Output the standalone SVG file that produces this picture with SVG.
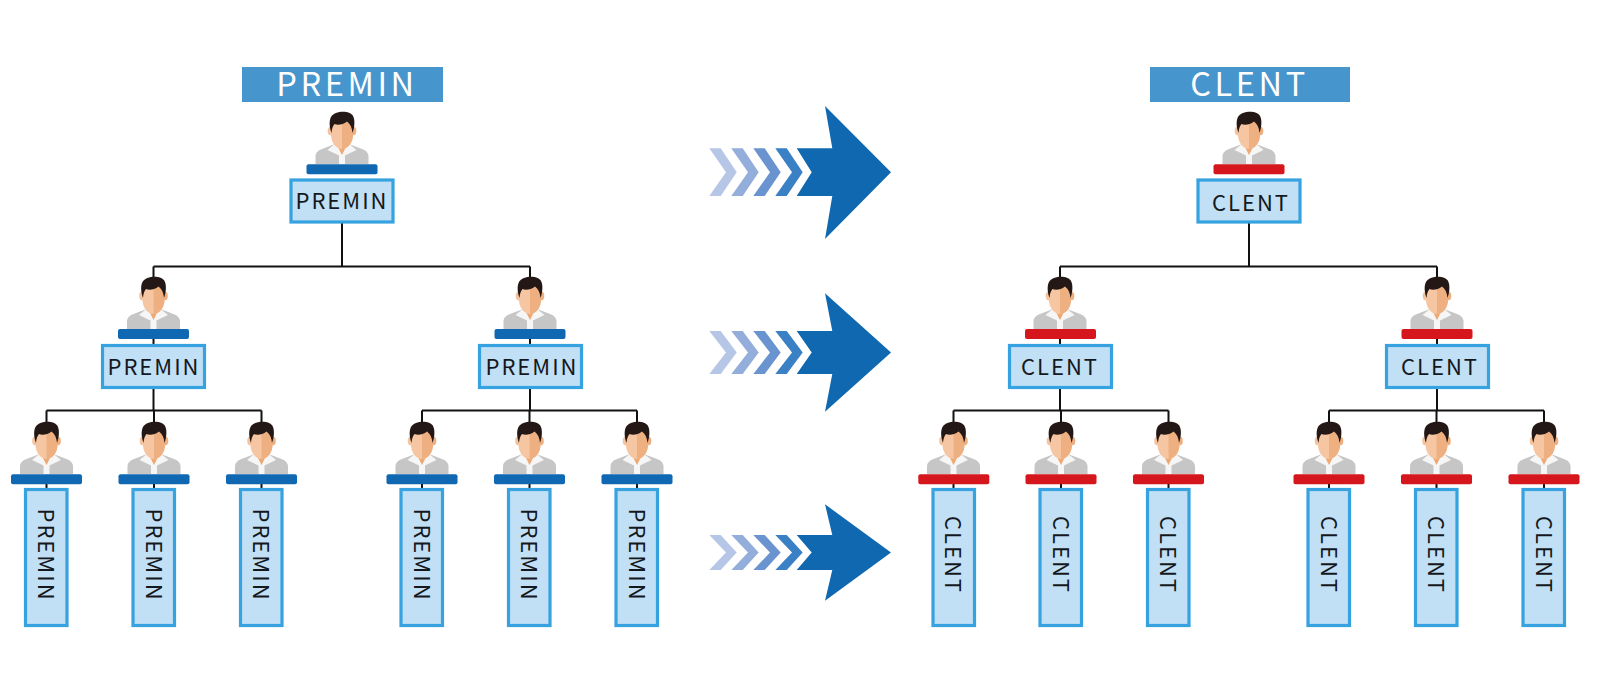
<svg xmlns="http://www.w3.org/2000/svg" width="1600" height="686" viewBox="0 0 1600 686">
<style>
text{font-family:"Noto Sans CJK SC","Noto Sans",sans-serif;text-anchor:middle}
.hd{fill:#4696cd}
.hdt{fill:#fff;font-size:32.5px;font-weight:400;letter-spacing:3.6px}
.box{fill:#c1dff5;stroke:#36a2e0;stroke-width:3.2}
.t{fill:#14181c;font-size:22px;letter-spacing:2px}
.bb{fill:#1067b2}
.br{fill:#d5161c}
.cn{fill:none;stroke:#111;stroke-width:2}
.a0{fill:#0f68b0}.a1{fill:#b5c6e7}.a2{fill:#94aedb}.a3{fill:#6a94cf}.a4{fill:#3a80c5}
</style>
<defs>
<g id="person">
<path d="M-26.5,0V-8C-26,-12 -23,-14 -20,-15L-7,-20H7L20,-15C23,-14 26,-12 26.5,-8V0Z" fill="#c6c6c6"/>
<path d="M-6.5,-25H6.5V-20L0,-8L-6.5,-20Z" fill="#eda873"/>
<path d="M-14.5,-14L-6,-21L0,-9L6,-21L14.5,-14L3,-8.5V0H-3V-8.5Z" fill="#f6f6f6"/>
<ellipse cx="-11.5" cy="-33" rx="2.8" ry="4.2" fill="#f5c39d"/>
<ellipse cx="11.5" cy="-33" rx="2.8" ry="4.2" fill="#eeae7e"/>
<path d="M-11,-46H11V-29C11,-22 6,-15 0,-15C-6,-15 -11,-22 -11,-29Z" fill="#f6c6a2"/>
<path d="M0,-46H11V-29C11,-22 6,-15 0,-15Z" fill="#efb081"/>
<path d="M-10.5,-31C-12.7,-37 -13,-43 -11,-47C-7.5,-53.5 7.5,-54 10.8,-48.5C13.2,-44.5 12.8,-37 10.5,-31C10,-36 8.5,-40 5,-42.5C1,-39 -5,-38.5 -7.5,-40C-9.3,-38 -10.2,-35 -10.5,-31Z" fill="#231815"/>
</g>
</defs>
<rect width="1600" height="686" fill="#fff"/>

<g id="connectors" class="cn">
<path d="M342,223V266.5M153.5,266.5H530M153.5,266.5V280M530,266.5V280M153.5,339V344M530,339V344"/>
<path d="M46.5,410.5H261.5M153.5,388V410.5M46.5,410.5V425M154,410.5V425M261.5,410.5V425M46.5,484V488M154,484V488M261.5,484V488"/>
<path d="M422,410.5H637M530,388V410.5M422,410.5V425M529.5,410.5V425M637,410.5V425M422,484V488M529.5,484V488M637,484V488"/>
<path d="M1249,223V266.5M1060,266.5H1437M1060,266.5V280M1437,266.5V280M1060,339V344M1437,339V344"/>
<path d="M953.5,410.5H1168.5M1060,388V410.5M953.5,410.5V425M1061,410.5V425M1168.5,410.5V425M953.5,484V488M1061,484V488M1168.5,484V488"/>
<path d="M1329,410.5H1544M1437,388V410.5M1329,410.5V425M1436.5,410.5V425M1544,410.5V425M1329,484V488M1436.5,484V488M1544,484V488"/>
</g>

<g id="header-left"><rect class="hd" x="242" y="67" width="201" height="35"/><text class="hdt" x="347" y="96">PREMIN</text></g>
<g id="header-right"><rect class="hd" x="1150" y="67" width="200" height="35"/><text class="hdt" x="1249.5" y="96">CLENT</text></g>

<g id="arrow-1">
<path class="a1" d="M709.3,148.3H720.7L736.7,172.3L720.7,196H709.3L726,172.3Z"/>
<path class="a2" d="M731.3,148.3H742.7L758.7,172.3L742.7,196H731.3L748,172.3Z"/>
<path class="a3" d="M753.3,148.3H764.7L780.7,172.3L764.7,196H753.3L770,172.3Z"/>
<path class="a4" d="M775.3,148.3H786.7L802.7,172.3L786.7,196H775.3L792,172.3Z"/>
<path class="a0" d="M796.7,148.3H832.3L825,106L891,172.3L825,239L832.3,196H796.7L811.7,172.3Z"/>
</g>
<g id="arrow-2">
<path class="a1" d="M709.3,331H720.7L736.7,352.5L720.7,374H709.3L726,352.5Z"/>
<path class="a2" d="M731.3,331H742.7L758.7,352.5L742.7,374H731.3L748,352.5Z"/>
<path class="a3" d="M753.3,331H764.7L780.7,352.5L764.7,374H753.3L770,352.5Z"/>
<path class="a4" d="M775.3,331H786.7L802.7,352.5L786.7,374H775.3L792,352.5Z"/>
<path class="a0" d="M796.7,331H832.3L825,293.3L891,352.5L825,411.7L832.3,374H796.7L811.7,352.5Z"/>
</g>
<g id="arrow-3">
<path class="a1" d="M709.3,535H720.7L736.7,552.5L720.7,570H709.3L726,552.5Z"/>
<path class="a2" d="M731.3,535H742.7L758.7,552.5L742.7,570H731.3L748,552.5Z"/>
<path class="a3" d="M753.3,535H764.7L780.7,552.5L764.7,570H753.3L770,552.5Z"/>
<path class="a4" d="M775.3,535H786.7L802.7,552.5L786.7,570H775.3L792,552.5Z"/>
<path class="a0" d="M796.7,535H832.3L825,504.3L891,552.5L825,600.7L832.3,570H796.7L811.7,552.5Z"/>
</g>

<g id="p-root"><use href="#person" x="342" y="164"/><rect class="bb" x="306.5" y="164.3" width="71" height="10" rx="2"/><rect class="box" x="291" y="180" width="102" height="42"/><text class="t" x="342" y="209">PREMIN</text></g>
<g id="p-l2a"><use href="#person" x="153.5" y="329"/><rect class="bb" x="118" y="329" width="71" height="10" rx="2"/><rect class="box" x="102.5" y="345.5" width="102" height="42"/><text class="t" x="154" y="375">PREMIN</text></g>
<g id="p-l2b"><use href="#person" x="530" y="329"/><rect class="bb" x="494.5" y="329" width="71" height="10" rx="2"/><rect class="box" x="479.5" y="345.5" width="102" height="42"/><text class="t" x="532" y="375">PREMIN</text></g>

<g id="p-a1"><use href="#person" x="46.5" y="474"/><rect class="bb" x="11" y="474.3" width="71" height="10" rx="2"/><rect class="box" x="25.5" y="489.5" width="41.5" height="136"/><text class="t" transform="translate(38,555) rotate(90)">PREMIN</text></g>
<g id="p-a2"><use href="#person" x="154" y="474"/><rect class="bb" x="118.5" y="474.3" width="71" height="10" rx="2"/><rect class="box" x="133" y="489.5" width="41.5" height="136"/><text class="t" transform="translate(145.5,555) rotate(90)">PREMIN</text></g>
<g id="p-a3"><use href="#person" x="261.5" y="474"/><rect class="bb" x="226" y="474.3" width="71" height="10" rx="2"/><rect class="box" x="240.5" y="489.5" width="41.5" height="136"/><text class="t" transform="translate(253,555) rotate(90)">PREMIN</text></g>
<g id="p-b1"><use href="#person" x="422" y="474"/><rect class="bb" x="386.5" y="474.3" width="71" height="10" rx="2"/><rect class="box" x="401" y="489.5" width="41.5" height="136"/><text class="t" transform="translate(413.5,555) rotate(90)">PREMIN</text></g>
<g id="p-b2"><use href="#person" x="529.5" y="474"/><rect class="bb" x="494" y="474.3" width="71" height="10" rx="2"/><rect class="box" x="508.5" y="489.5" width="41.5" height="136"/><text class="t" transform="translate(521,555) rotate(90)">PREMIN</text></g>
<g id="p-b3"><use href="#person" x="637" y="474"/><rect class="bb" x="601.5" y="474.3" width="71" height="10" rx="2"/><rect class="box" x="616" y="489.5" width="41.5" height="136"/><text class="t" transform="translate(628.5,555) rotate(90)">PREMIN</text></g>

<g id="c-root"><use href="#person" x="1249" y="164"/><rect class="br" x="1213.5" y="164.3" width="71" height="10" rx="2"/><rect class="box" x="1198" y="180" width="102" height="42"/><text class="t" x="1251" y="211">CLENT</text></g>
<g id="c-l2a"><use href="#person" x="1060" y="329"/><rect class="br" x="1025" y="329" width="71" height="10" rx="2"/><rect class="box" x="1009.5" y="345.5" width="102" height="42"/><text class="t" x="1060" y="375">CLENT</text></g>
<g id="c-l2b"><use href="#person" x="1437" y="329"/><rect class="br" x="1401.5" y="329" width="71" height="10" rx="2"/><rect class="box" x="1386.5" y="345.5" width="102" height="42"/><text class="t" x="1440" y="375">CLENT</text></g>

<g id="c-a1"><use href="#person" x="953.5" y="474"/><rect class="br" x="918.3" y="474.3" width="71" height="10" rx="2"/><rect class="box" x="933" y="489.5" width="41.5" height="136"/><text class="t" transform="translate(945,555) rotate(90)">CLENT</text></g>
<g id="c-a2"><use href="#person" x="1061" y="474"/><rect class="br" x="1025.5" y="474.3" width="71" height="10" rx="2"/><rect class="box" x="1040" y="489.5" width="41.5" height="136"/><text class="t" transform="translate(1052.5,555) rotate(90)">CLENT</text></g>
<g id="c-a3"><use href="#person" x="1168.5" y="474"/><rect class="br" x="1133" y="474.3" width="71" height="10" rx="2"/><rect class="box" x="1147.5" y="489.5" width="41.5" height="136"/><text class="t" transform="translate(1160,555) rotate(90)">CLENT</text></g>
<g id="c-b1"><use href="#person" x="1329" y="474"/><rect class="br" x="1293.5" y="474.3" width="71" height="10" rx="2"/><rect class="box" x="1308" y="489.5" width="41.5" height="136"/><text class="t" transform="translate(1320.5,555) rotate(90)">CLENT</text></g>
<g id="c-b2"><use href="#person" x="1436.5" y="474"/><rect class="br" x="1401" y="474.3" width="71" height="10" rx="2"/><rect class="box" x="1415.5" y="489.5" width="41.5" height="136"/><text class="t" transform="translate(1428,555) rotate(90)">CLENT</text></g>
<g id="c-b3"><use href="#person" x="1544" y="474"/><rect class="br" x="1508.5" y="474.3" width="71" height="10" rx="2"/><rect class="box" x="1523" y="489.5" width="41.5" height="136"/><text class="t" transform="translate(1535.5,555) rotate(90)">CLENT</text></g>
</svg>
